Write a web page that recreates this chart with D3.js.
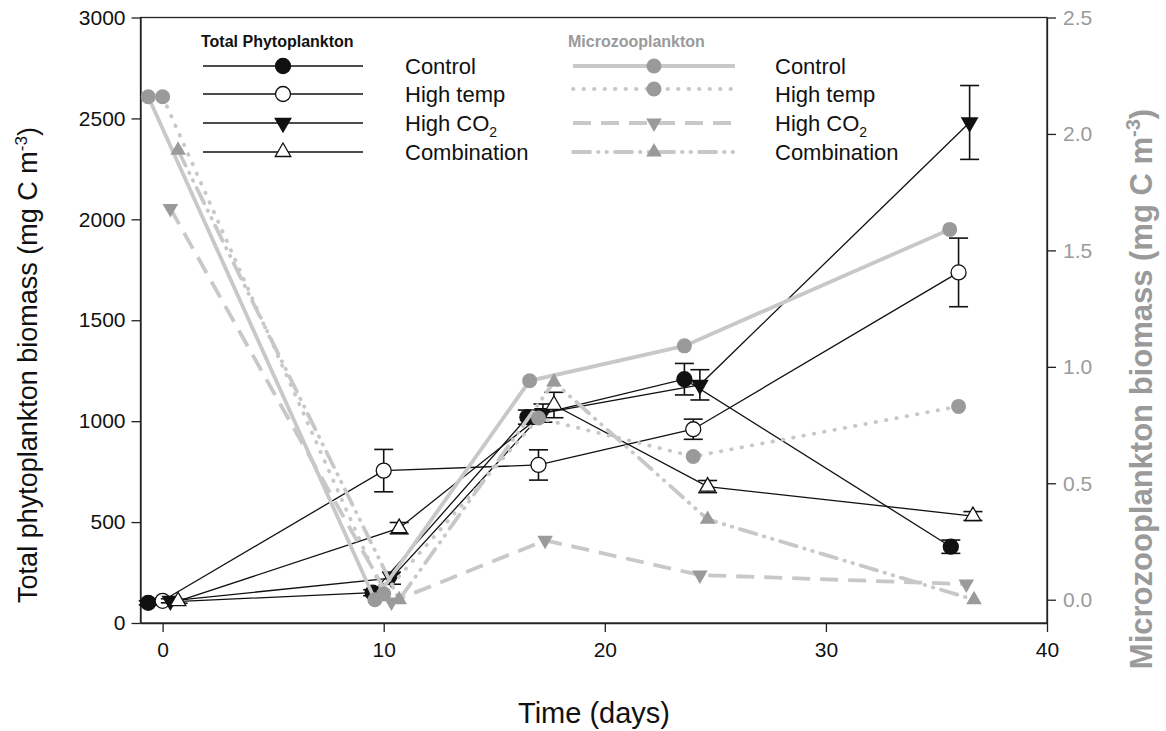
<!DOCTYPE html>
<html>
<head>
<meta charset="utf-8">
<script src="https://cdn.jsdelivr.net/npm/d3@7"></script>
<style>
  body { margin: 0; background: #fff; }
  text { font-family: Arial, 'Liberation Sans', sans-serif; }
</style>
</head>
<body>
<svg width="1166" height="731"></svg>
<script>
// Total phytoplankton (mg C m-3), mean +/- error, per treatment
var phyCtrlDays = [-0.65, 9.5, 16.5, 23.6, 35.65];
var phyCtrl = [100, 150, 1020, 1208, 378];
var phyCtrlErr = [10, 15, 35, 78, 33];
var phyTempDays = [0, 10, 17, 24, 36];
var phyTemp = [110, 755, 783, 960, 1737];
var phyTempErr = [10, 105, 75, 50, 170];
var phyCo2Days = [0.35, 10.35, 17.2, 24.3, 36.5];
var phyCo2 = [110, 222, 1040, 1180, 2480];
var phyCo2Err = [10, 30, 45, 75, 183];
var phyCombDays = [0.7, 10.7, 17.7, 24.65, 36.65];
var phyComb = [108, 470, 1080, 676, 530];
var phyCombErr = [10, 28, 63, 30, 22];

// Microzooplankton (mg C m-3)
var zooCtrlDays = [-0.65, 9.6, 16.6, 23.6, 35.6];
var zooCtrl = [2.16, 0.0, 0.94, 1.09, 1.59];
var zooTempDays = [0, 10, 17, 24, 36];
var zooTemp = [2.16, 0.025, 0.78, 0.615, 0.83];
var zooCo2Days = [0.35, 10.35, 17.3, 24.3, 36.35];
var zooCo2 = [1.68, -0.01, 0.255, 0.106, 0.067];
var zooCombDays = [0.7, 10.7, 17.7, 24.65, 36.7];
var zooComb = [1.93, 0.0, 0.935, 0.345, 0.0];

var treatments = ['Control', 'High temp', 'High CO2', 'Combination'];
var xTicks = [0, 10, 20, 30, 40];
var yTicks = [0, 500, 1000, 1500, 2000, 2500, 3000];
var y2Ticks = [0, 0.5, 1, 1.5, 2, 2.5];

var svg = d3.select('svg');
var plotL = 140.5, plotR = 1047, plotT = 17.5, plotB = 623;
var grey = '#9a9a9a';
var lightGrey = '#c8c8c8';

var x = d3.scaleLinear().domain([-1, 40]).range([plotL, plotR]);
var y = d3.scaleLinear().domain([0, 3000]).range([plotB, plotT]);
var y2 = d3.scaleLinear().domain([-0.1, 2.5]).range([plotB, plotT]);

function zip(days, vals, errs) {
  return days.map(function(d, i) {
    return {x: d, y: vals[i], e: errs ? errs[i] : 0};
  });
}

var phyto = [
  {name: treatments[0], shape: 'circle', fill: '#111', data: zip(phyCtrlDays, phyCtrl, phyCtrlErr)},
  {name: treatments[1], shape: 'circle', fill: '#fff', data: zip(phyTempDays, phyTemp, phyTempErr)},
  {name: treatments[2], shape: 'down', fill: '#111', data: zip(phyCo2Days, phyCo2, phyCo2Err)},
  {name: treatments[3], shape: 'up', fill: '#fff', data: zip(phyCombDays, phyComb, phyCombErr)}
];
var zoo = [
  {name: treatments[0], shape: 'circle', dash: null, cap: 'butt', data: zip(zooCtrlDays, zooCtrl)},
  {name: treatments[1], shape: 'circle', dash: '0.5,10', cap: 'round', data: zip(zooTempDays, zooTemp)},
  {name: treatments[2], shape: 'down', dash: '18,10', cap: 'butt', data: zip(zooCo2Days, zooCo2)},
  {name: treatments[3], shape: 'up', dash: '17,8,0.5,8,0.5,8', cap: 'round', data: zip(zooCombDays, zooComb)}
];

function marker(sel, shape, fill, stroke) {
  if (shape === 'circle') {
    sel.append('circle').attr('r', 7.5)
      .attr('fill', fill).attr('stroke', stroke).attr('stroke-width', 1.3);
  } else {
    sel.append('path')
      .attr('d', d3.symbol().type(d3.symbolTriangle).size(105)())
      .attr('transform', shape === 'down' ? 'rotate(180)' : null)
      .attr('fill', fill).attr('stroke', stroke).attr('stroke-width', 1.3);
  }
}

// frame
svg.append('rect')
  .attr('x', plotL).attr('y', plotT)
  .attr('width', plotR - plotL).attr('height', plotB - plotT)
  .attr('fill', 'none').attr('stroke', '#222').attr('stroke-width', 1.3);

var axB = svg.append('g')
  .attr('transform', 'translate(0,' + plotB + ')')
  .call(d3.axisBottom(x).tickValues(xTicks).tickSize(9).tickPadding(10).tickSizeOuter(0));
var axL = svg.append('g')
  .attr('transform', 'translate(' + plotL + ',0)')
  .call(d3.axisLeft(y).tickValues(yTicks).tickFormat(d3.format('d')).tickSize(9).tickPadding(6).tickSizeOuter(0));
var axR = svg.append('g')
  .attr('transform', 'translate(' + plotR + ',0)')
  .call(d3.axisRight(y2).tickValues(y2Ticks).tickFormat(d3.format('.1f')).tickSize(9).tickPadding(7).tickSizeOuter(0));

[axB, axL, axR].forEach(function(a) {
  a.attr('font-size', 21).attr('font-family', 'Arial, Liberation Sans, sans-serif');
  a.select('.domain').attr('stroke', '#222').attr('stroke-width', 1.3);
  a.selectAll('.tick line').attr('stroke', '#222').attr('stroke-width', 1.3);
  a.selectAll('.tick text').attr('fill', '#111');
});
axR.selectAll('.tick text').attr('fill', grey);

// axis titles
svg.append('text')
  .attr('x', 594).attr('y', 723)
  .attr('text-anchor', 'middle').attr('font-size', 29).attr('fill', '#111')
  .text('Time (days)');

var lt = svg.append('text')
  .attr('transform', 'translate(37,365) rotate(-90)')
  .attr('text-anchor', 'middle').attr('font-size', 27).attr('fill', '#111');
lt.append('tspan').text('Total phytoplankton biomass (mg C m');
lt.append('tspan').attr('dy', -10).attr('font-size', 17).text('-3');
lt.append('tspan').attr('dy', 10).text(')');

var rt = svg.append('text')
  .attr('transform', 'translate(1152,389) rotate(-90)')
  .attr('text-anchor', 'middle').attr('font-size', 31).attr('font-weight', 'bold').attr('fill', grey);
rt.append('tspan').text('Microzooplankton biomass (mg C m');
rt.append('tspan').attr('dy', -12).attr('font-size', 20).text('-3');
rt.append('tspan').attr('dy', 12).text(')');

// phytoplankton lines, error bars and markers
var linePhy = d3.line().x(function(d) { return x(d.x); }).y(function(d) { return y(d.y); });
var lineZoo = d3.line().x(function(d) { return x(d.x); }).y(function(d) { return y2(d.y); });

phyto.forEach(function(s) {
  svg.append('path').datum(s.data).attr('d', linePhy)
    .attr('fill', 'none').attr('stroke', '#111').attr('stroke-width', 1.3);
});
phyto.forEach(function(s) {
  var g = svg.append('g');
  var bars = g.selectAll('.err').data(s.data).enter().append('g')
    .attr('stroke', '#111').attr('stroke-width', 1.6);
  bars.append('line')
    .attr('x1', function(d) { return x(d.x); }).attr('x2', function(d) { return x(d.x); })
    .attr('y1', function(d) { return y(d.y + d.e); }).attr('y2', function(d) { return y(d.y - d.e); });
  [1, -1].forEach(function(sg) {
    bars.append('line')
      .attr('x1', function(d) { return x(d.x) - 9.5; }).attr('x2', function(d) { return x(d.x) + 9.5; })
      .attr('y1', function(d) { return y(d.y + sg * d.e); }).attr('y2', function(d) { return y(d.y + sg * d.e); });
  });
  g.selectAll('.pt').data(s.data).enter().append('g')
    .attr('transform', function(d) { return 'translate(' + x(d.x) + ',' + y(d.y) + ')'; })
    .each(function() { marker(d3.select(this), s.shape, s.fill, '#111'); });
});

// microzooplankton on top
zoo.forEach(function(s) {
  svg.append('path').datum(s.data).attr('d', lineZoo)
    .attr('fill', 'none').attr('stroke', lightGrey).attr('stroke-width', 3.8)
    .attr('stroke-linecap', s.cap)
    .attr('stroke-dasharray', s.dash);
});
zoo.forEach(function(s) {
  svg.append('g').selectAll('.pt').data(s.data).enter().append('g')
    .attr('transform', function(d) { return 'translate(' + x(d.x) + ',' + y2(d.y) + ')'; })
    .each(function() { marker(d3.select(this), s.shape, grey, 'none'); });
});

// legends
var rows = [66, 94, 123, 152];

function legendLabel(lx, ly, name) {
  var t = svg.append('text').attr('x', lx).attr('y', ly + 8).attr('font-size', 22).attr('fill', '#111');
  if (name === 'High CO2') {
    t.append('tspan').text('High CO');
    t.append('tspan').attr('dy', 6).attr('font-size', 14).text('2');
  } else {
    t.text(name);
  }
}

svg.append('text').attr('x', 201).attr('y', 47)
  .attr('font-size', 16).attr('font-weight', 'bold').attr('fill', '#111')
  .text('Total Phytoplankton');
phyto.forEach(function(s, i) {
  svg.append('line').attr('x1', 203).attr('x2', 363).attr('y1', rows[i]).attr('y2', rows[i])
    .attr('stroke', '#111').attr('stroke-width', 1.3);
  var m = svg.append('g').attr('transform', 'translate(283,' + rows[i] + ')');
  marker(m, s.shape, s.fill, '#111');
  legendLabel(405, rows[i], s.name);
});

svg.append('text').attr('x', 568).attr('y', 47)
  .attr('font-size', 16).attr('font-weight', 'bold').attr('fill', grey)
  .text('Microzooplankton');
zoo.forEach(function(s, i) {
  var ly = i === 1 ? 89 : rows[i];
  svg.append('line').attr('x1', 573).attr('x2', 735).attr('y1', ly).attr('y2', ly)
    .attr('stroke', lightGrey).attr('stroke-width', 3.8)
    .attr('stroke-linecap', s.cap)
    .attr('stroke-dasharray', s.dash);
  var m = svg.append('g').attr('transform', 'translate(654,' + ly + ')');
  marker(m, s.shape, grey, 'none');
  legendLabel(775, rows[i], s.name);
});
</script>
</body>
</html>
